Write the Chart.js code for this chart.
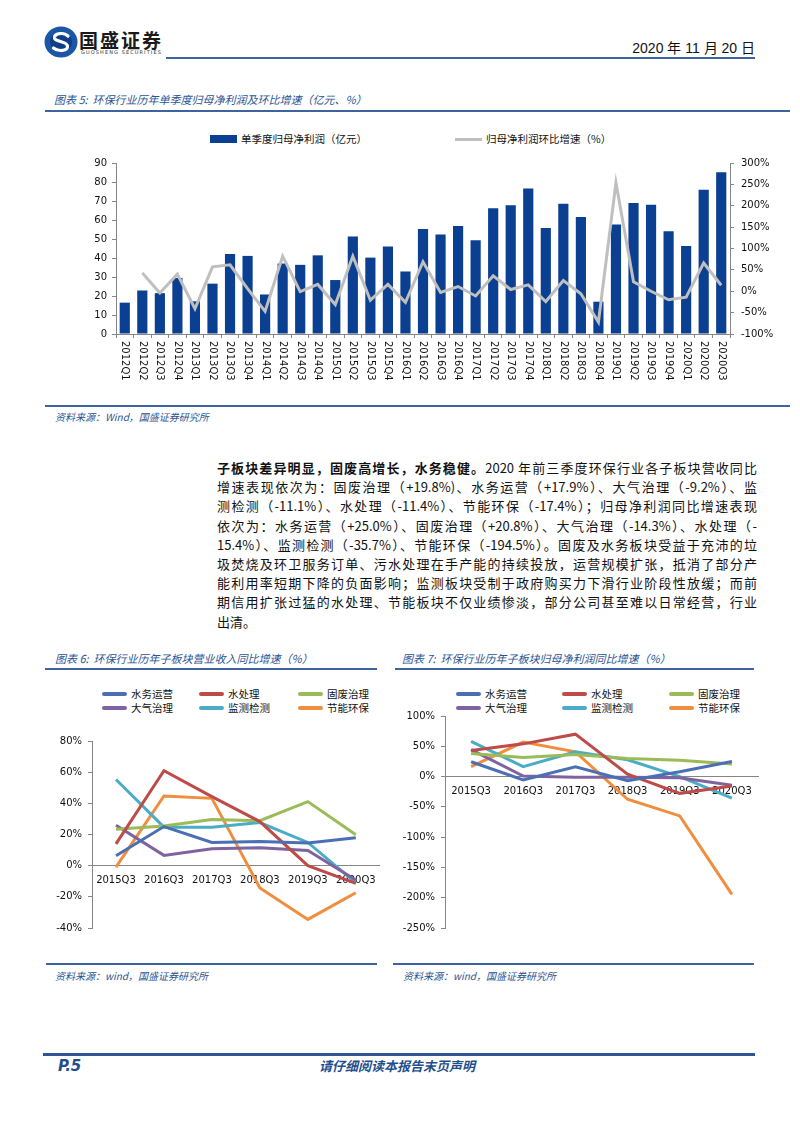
<!DOCTYPE html>
<html lang="zh-CN">
<head>
<meta charset="utf-8">
<script src="https://cdn.jsdelivr.net/npm/chart.js@4.4.1/dist/chart.umd.min.js"></script>
<style>
  html,body{margin:0;padding:0;background:#fff;}
  body{width:800px;height:1132px;position:relative;overflow:hidden;font-family:"Noto Sans CJK SC","Noto Sans",sans-serif;color:#111;}
  .abs{position:absolute;white-space:nowrap;}
  .rule{position:absolute;background:#3e64a0;height:2px;}
  .ttl{position:absolute;font-size:11px;font-style:italic;color:#2a5494;line-height:14px;white-space:nowrap;}
  .src{position:absolute;font-size:10px;font-style:italic;color:#2a5494;line-height:13px;white-space:nowrap;}
  canvas{position:absolute;}
  .para{position:absolute;left:217px;width:540px;font-size:13px;}
  .para div{height:19.2px;line-height:19.2px;text-align:justify;text-align-last:justify;white-space:nowrap;}
  .para div.last{text-align-last:left;}
  .lg{position:absolute;display:flex;align-items:center;font-size:10.5px;line-height:12px;white-space:nowrap;color:#111;}
  .lg i{display:inline-block;margin-right:4px;}
</style>
</head>
<body>
<!-- header -->
<svg class="abs" style="left:44px;top:26px" width="34" height="32" viewBox="0 0 34 32">
  <ellipse cx="17" cy="16" rx="16.5" ry="15.5" fill="#1b57a5"/>
  <ellipse cx="17" cy="16" rx="11" ry="10" fill="#0e3f86"/>
  <path d="M24 10 C20 6,10 7,10.5 12 C11 16,23 15,23.5 20 C24 25,14 26,9.5 22" stroke="#fff" stroke-width="3.2" fill="none" stroke-linecap="round"/>
</svg>
<div class="abs" style="left:79px;top:29px;font-size:19px;font-weight:700;letter-spacing:2px;color:#1a1a1a;line-height:22px;">国盛证券</div>
<div class="abs" style="left:81px;top:49px;font-size:5px;letter-spacing:1.1px;color:#333;line-height:6px;font-family:'DejaVu Sans',sans-serif;">GUOSHENG SECURITIES</div>
<div class="abs" style="right:45px;top:39px;font-size:14px;line-height:18px;font-family:'Liberation Sans Narrow','Liberation Sans',sans-serif;color:#111;">2020 年 11 月 20 日</div>
<div class="rule" style="left:166px;top:57px;width:589px;"></div>

<!-- chart 5 -->
<div class="ttl" style="left:54px;top:92px;">图表 5:&nbsp; 环保行业历年单季度归母净利润及环比增速（亿元、%）</div>
<div class="rule" style="left:45px;top:110px;width:745px;"></div>
<div id="lg1"></div>
<canvas id="c1" width="700" height="240" style="left:80px;top:150px;"></canvas>
<div class="rule" style="left:45px;top:405px;width:745px;"></div>
<div class="src" style="left:55px;top:410px;">资料来源：Wind，国盛证券研究所</div>

<!-- paragraph -->
<div class="para" style="top:458px;">
  <div><b>子板块差异明显，固废高增长，水务稳健。</b>2020 年前三季度环保行业各子板块营收同比</div>
  <div>增速表现依次为：固废治理（+19.8%)、水务运营（+17.9%）、大气治理（-9.2%）、监</div>
  <div>测检测（-11.1%）、水处理（-11.4%）、节能环保（-17.4%）；归母净利润同比增速表现</div>
  <div>依次为：水务运营（+25.0%）、固废治理（+20.8%）、大气治理（-14.3%）、水处理（-</div>
  <div>15.4%）、监测检测（-35.7%）、节能环保（-194.5%）。固废及水务板块受益于充沛的垃</div>
  <div>圾焚烧及环卫服务订单、污水处理在手产能的持续投放，运营规模扩张，抵消了部分产</div>
  <div>能利用率短期下降的负面影响；监测板块受制于政府购买力下滑行业阶段性放缓；而前</div>
  <div>期信用扩张过猛的水处理、节能板块不仅业绩惨淡，部分公司甚至难以日常经营，行业</div>
  <div class="last">出清。</div>
</div>

<!-- chart 6 -->
<div class="ttl" style="left:55px;top:651px;">图表 6:&nbsp; 环保行业历年子板块营业收入同比增速（%）</div>
<div class="rule" style="left:45px;top:668px;width:332px;"></div>
<div id="lg6"></div>
<canvas id="c6" width="345" height="215" style="left:40px;top:725px;"></canvas>
<div class="rule" style="left:46px;top:963px;width:331px;"></div>
<div class="src" style="left:55px;top:969px;">资料来源：wind，国盛证券研究所</div>

<!-- chart 7 -->
<div class="ttl" style="left:402px;top:651px;">图表 7:&nbsp; 环保行业历年子板块归母净利润同比增速（%）</div>
<div class="rule" style="left:395px;top:668px;width:359px;"></div>
<div id="lg7"></div>
<canvas id="c7" width="375" height="240" style="left:390px;top:700px;"></canvas>
<div class="rule" style="left:393px;top:963px;width:361px;"></div>
<div class="src" style="left:403px;top:969px;">资料来源：wind，国盛证券研究所</div>

<!-- footer -->
<div class="rule" style="left:43px;top:1053px;width:712px;height:3px;background:#2f5597;"></div>
<div class="abs" style="left:58px;top:1057px;font-size:15px;font-weight:700;font-style:italic;color:#1f4e8c;line-height:18px;font-family:'DejaVu Sans',sans-serif;">P.5</div>
<div class="abs" style="left:319px;top:1058px;font-size:13px;font-weight:700;font-style:italic;color:#1f4e8c;line-height:16px;">请仔细阅读本报告末页声明</div>

<script>
// ---------------- data ----------------
const quarters = ['2012Q1','2012Q2','2012Q3','2012Q4','2013Q1','2013Q2','2013Q3','2013Q4',
  '2014Q1','2014Q2','2014Q3','2014Q4','2015Q1','2015Q2','2015Q3','2015Q4',
  '2016Q1','2016Q2','2016Q3','2016Q4','2017Q1','2017Q2','2017Q3','2017Q4',
  '2018Q1','2018Q2','2018Q3','2018Q4','2019Q1','2019Q2','2019Q3','2019Q4',
  '2020Q1','2020Q2','2020Q3'];
const netProfit = [16.5,22.9,21.5,29.5,17.2,26.5,42.1,41.1,
  20.8,37.1,36.4,41.4,28.4,51.3,40.2,46.0,
  32.9,55.2,52.4,56.9,49.4,66.2,67.8,76.6,
  55.8,68.5,61.6,17.0,57.6,69.0,68.0,54.1,
  46.3,75.9,85.1];
const qoqGrowth = [null,43,-4,40,-41,57,62,6,
  -47,82,-1,16,-31,82,-21,16,
  -26,69,-3,11,-11,36,4,15,
  -24,25,-6,-72,254,22,0,-20,
  -14,66,14];
const leftTicks = {min:0, max:90, step:10};
const rightTicks = {min:-100, max:300, step:50};

const years = ['2015Q3','2016Q3','2017Q3','2018Q3','2019Q3','2020Q3'];
const sectorNames = ['水务运营','水处理','固废治理','大气治理','监测检测','节能环保'];
const sectorColors = ['#4a70b3','#bd4b48','#9bbb59','#7f62a0','#4aacc5','#f08e3e'];

// revenue yoy (%)
const revWater   = [6.4,25.1,14.9,15.5,14.5,17.9];
const revTreat   = [14.0,60.9,44.3,28.3,0.0,-11.4];
const revSolid   = [23.4,25.5,29.6,28.9,41.1,19.8];
const revAir     = [26.0,6.6,10.9,11.5,9.8,-9.2];
const revMonitor = [55.3,24.7,24.7,27.7,14.9,-11.1];
const revEnergy  = [-0.9,44.7,43.2,-14.3,-34.5,-17.4];
// net profit yoy (%)
const npWater   = [24.5,-5.4,16.3,-7.0,8.0,25.0];
const npTreat   = [43.0,54.0,70.0,4.0,-27.7,-15.4];
const npSolid   = [38.0,31.5,36.4,30.0,27.0,20.8];
const npAir     = [44.6,1.0,-1.0,-1.0,-2.0,-14.3];
const npMonitor = [58.0,16.3,40.8,27.7,0.0,-35.7];
const npEnergy  = [16.3,57.0,40.8,-37.5,-65.0,-194.5];

// ---------------- helpers ----------------
const TICK_FONT = {family:'"DejaVu Sans", Verdana, sans-serif', size:10};
const AXIS = '#868686';

function htmlLegend(containerId, items, cols, rows) {
  const box = document.getElementById(containerId);
  items.forEach((it, idx) => {
    const d = document.createElement('div');
    d.className = 'lg';
    const c = idx % cols.length, r = Math.floor(idx / cols.length);
    d.style.left = cols[c] + 'px';
    d.style.top = (rows[r] - 6) + 'px';
    const sw = document.createElement('i');
    sw.style.width = it.w + 'px';
    sw.style.height = it.h + 'px';
    sw.style.background = it.color;
    if (it.round) sw.style.borderRadius = '2px';
    d.appendChild(sw);
    d.appendChild(document.createTextNode(it.text));
    box.appendChild(d);
  });
}

// ---------------- chart 5 ----------------
const vLabels = {
  id: 'vLabels',
  afterDraw(chart) {
    const sx = chart.scales.x, ctx = chart.ctx;
    ctx.save();
    ctx.font = '10px "DejaVu Sans", Verdana, sans-serif';
    ctx.fillStyle = '#111';
    ctx.textAlign = 'left';
    ctx.textBaseline = 'middle';
    chart.data.labels.forEach((lab, i) => {
      const x = sx.getPixelForValue(i);
      ctx.save();
      ctx.translate(x, sx.top + 7);
      ctx.rotate(Math.PI / 2);
      ctx.fillText(lab, 0, 0);
      ctx.restore();
    });
    ctx.restore();
  }
};

const c1 = new Chart(document.getElementById('c1'), {
  data: {
    labels: quarters,
    datasets: [
      {type:'line', label:'归母净利润环比增速（%）', data:qoqGrowth, yAxisID:'y1',
       borderColor:'#bfbfbf', backgroundColor:'#bfbfbf', borderWidth:3, pointRadius:0, tension:0, order:0},
      {type:'bar', label:'单季度归母净利润（亿元）', data:netProfit, yAxisID:'y',
       backgroundColor:'#0b3f92', borderWidth:0, barPercentage:0.58, categoryPercentage:1, order:1}
    ]
  },
  plugins:[vLabels],
  options: {
    responsive:false, animation:false, devicePixelRatio:1,
    layout:{autoPadding:false, padding:{top:11, right:0, left:0, bottom:0}},
    plugins:{legend:{display:false}, tooltip:{enabled:false}},
    scales:{
      x:{type:'category', offset:true,
         grid:{display:true, drawOnChartArea:false, drawTicks:true, tickLength:4, color:AXIS, offset:true},
         border:{display:true, color:AXIS},
         ticks:{display:false},
         afterFit(s){ s.height = 56; }},
      y:{position:'left', min:leftTicks.min, max:leftTicks.max,
         grid:{drawOnChartArea:false, drawTicks:true, tickLength:4, color:AXIS},
         border:{color:AXIS},
         ticks:{stepSize:leftTicks.step, font:TICK_FONT, color:'#111', padding:5},
         afterFit(s){ s.width = 36; }},
      y1:{position:'right', min:rightTicks.min, max:rightTicks.max,
         grid:{drawOnChartArea:false, drawTicks:true, tickLength:4, color:AXIS},
         border:{color:AXIS},
         ticks:{stepSize:rightTicks.step, font:TICK_FONT, color:'#111', padding:7, callback:v => v + '%'},
         afterFit(s){ s.width = 50; }}
    }
  }
});
htmlLegend('lg1', [
  {text:c1.data.datasets[1].label, color:c1.data.datasets[1].backgroundColor, w:27, h:8},
  {text:c1.data.datasets[0].label, color:c1.data.datasets[0].borderColor, w:27, h:3}
], [210, 455], [139]);
// second legend item is on the same row but in the 2nd column
document.querySelectorAll('#lg1 .lg')[1].style.top = (139 - 6) + 'px';

// ---------------- charts 6 & 7 ----------------
function sectorChart(id, seriesList, yMin, yMax, yStep, yWidth, pad) {
  return new Chart(document.getElementById(id), {
    type:'line',
    data:{
      labels: years,
      datasets: seriesList.map((s, i) => ({
        label: sectorNames[i], data: s, borderColor: sectorColors[i], backgroundColor: sectorColors[i],
        borderWidth: 3, pointRadius: 0, tension: 0, fill: false
      }))
    },
    options:{
      responsive:false, animation:false, devicePixelRatio:1,
      layout:{autoPadding:false, padding:pad},
      plugins:{legend:{display:false}, tooltip:{enabled:false}},
      scales:{
        x:{type:'category', offset:true, position:{y:0},
           grid:{display:false, drawTicks:false, tickLength:0},
           border:{display:true, color:AXIS, width:1},
           ticks:{font:TICK_FONT, color:'#111', padding:9, maxRotation:0, autoSkip:false}},
        y:{position:'left', min:yMin, max:yMax,
           grid:{drawOnChartArea:false, drawTicks:true, tickLength:4, color:AXIS},
           border:{color:AXIS},
           ticks:{stepSize:yStep, font:TICK_FONT, color:'#111', padding:6, callback:v => v + '%'},
           afterFit(s){ s.width = yWidth; }}
      }
    }
  });
}

const c6 = sectorChart('c6', [revWater, revTreat, revSolid, revAir, revMonitor, revEnergy],
  -40, 80, 20, 52, {top:16, right:4, bottom:9, left:0});
const c7 = sectorChart('c7', [npWater, npTreat, npSolid, npAir, npMonitor, npEnergy],
  -250, 100, 50, 55, {top:16, right:7, bottom:8, left:0});

function sectorLegend(containerId, chart, cols, rows) {
  htmlLegend(containerId, chart.data.datasets.map(d => ({text:d.label, color:d.borderColor, w:25, h:4, round:true})), cols, rows);
}
sectorLegend('lg6', c6, [102, 199, 298], [694, 708]);
sectorLegend('lg7', c7, [456, 562, 669], [694, 708]);
</script>
</body>
</html>
